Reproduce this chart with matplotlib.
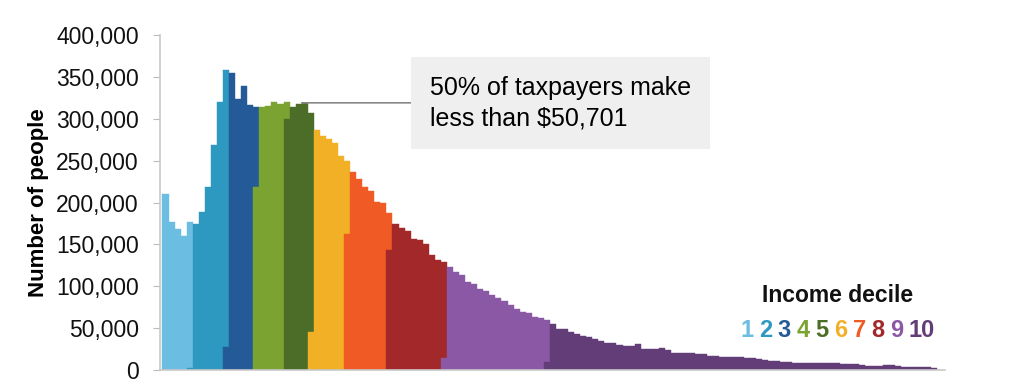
import numpy as np
import matplotlib
matplotlib.use("Agg")
import matplotlib.pyplot as plt
from matplotlib.ticker import FuncFormatter
from matplotlib.offsetbox import TextArea, HPacker, VPacker, AnnotationBbox

plt.rcParams['font.family'] = ['Liberation Sans', 'DejaVu Sans']

# people per income bin, in thousands (equal-width bins, left to right)
counts = [210, 177, 168, 160, 177,
          175, 189, 219, 269, 320, 358,
          355, 324, 339, 316, 314,
          314, 315, 320, 318, 320,
          314, 318, 319, 307,
          287, 279, 276, 271, 255, 250,
          237, 228, 218, 214, 201, 199, 187,
          175, 170, 166, 157, 155, 151, 137, 131, 129,
          123, 117, 113, 105, 103, 97, 94, 90, 86, 82, 78, 73, 70, 68, 63, 62, 60,
          55, 49, 49, 46, 43, 41, 39, 37, 35, 33, 32, 30, 29, 29, 31, 25, 25, 25, 27, 24, 21, 21,
          21, 20, 19, 19, 17, 17, 16, 16, 16, 16, 15, 14, 13, 12, 11, 11, 10, 10, 9, 9, 9, 8,
          8, 8, 8, 9, 7, 7, 7, 6, 5, 5, 5, 6, 6, 5, 4, 4, 4, 4, 4, 3]

# bins shared by two deciles, and the part (thousands) of the upper decile at the bottom
split_bins = [4, 10, 15, 20, 24, 30, 37, 46, 63]
split_lower = [3, 28, 219, 300, 46, 162, 143, 15, 10]

deciles = ['1', '2', '3', '4', '5', '6', '7', '8', '9', '10']
decile_colors = ['#6cbde2', '#2e99c0', '#245a98', '#7ba331', '#4b6d27',
                 '#f2b026', '#f05b25', '#a3282a', '#8a58a5', '#633d77']

median_bin = 23
median_label = "50% of taxpayers make\nless than $50,701"

counts = np.array(counts) * 1000
split_lower = np.array(split_lower) * 1000
n = len(counts)

fig = plt.figure(figsize=(10.24, 3.84), dpi=100)
ax = fig.add_axes([0.156, 0.036, 0.767, 0.873])

for d, c in enumerate(decile_colors):
    start = split_bins[d - 1] if d > 0 else 0
    end = split_bins[d] if d < len(split_bins) else n - 1
    xs, hs, bs = [], [], []
    for i in range(start, end + 1):
        if d > 0 and i == start:
            xs.append(i); hs.append(split_lower[d - 1]); bs.append(0)
        elif d < len(split_bins) and i == end:
            xs.append(i); hs.append(counts[i] - split_lower[d]); bs.append(split_lower[d])
        else:
            xs.append(i); hs.append(counts[i]); bs.append(0)
    ax.bar(xs, hs, bottom=bs, width=1, align='edge', color=c,
           edgecolor=c, linewidth=0.3)

ax.set_xlim(-0.45, 129.3)
ax.set_ylim(0, 400000)
ax.set_yticks(np.arange(0, 400001, 50000))
ax.yaxis.set_major_formatter(FuncFormatter(lambda v, p: f"{int(v):,}"))
ax.tick_params(axis='y', labelsize=16.5, length=5, color='#bbbbbb', labelcolor='#111111', pad=10)
ax.set_xticks([])
for s in ['top', 'right']:
    ax.spines[s].set_visible(False)
for s in ['left', 'bottom']:
    ax.spines[s].set_color('#c8c8c8')
    ax.spines[s].set_linewidth(1.2)

ax.set_ylabel("Number of people", fontsize=16, fontweight='bold', labelpad=5)

# median call-out
ax.annotate(median_label, xy=(median_bin, counts[median_bin]),
            xytext=(44.2, counts[median_bin]), fontsize=18, ha='left', va='center',
            linespacing=1.35,
            bbox=dict(boxstyle='square,pad=0.75', fc='#efefef', ec='none'),
            arrowprops=dict(arrowstyle='-', color='#888888', lw=1.2,
                            shrinkA=0, shrinkB=0))

# legend: coloured decile numbers
title = TextArea("Income decile", textprops=dict(fontsize=16.5, fontweight='bold', color='#111111'))
nums = [TextArea(t, textprops=dict(fontsize=17, fontweight='bold', color=c))
        for t, c in zip(deciles, decile_colors)]
row = HPacker(children=nums, align='center', pad=0, sep=4)
box = VPacker(children=[title, row], align='center', pad=0, sep=8)
ab = AnnotationBbox(box, (0.818, 0.185), xycoords='figure fraction', frameon=False,
                    box_alignment=(0.5, 0.5))
fig.add_artist(ab)

fig.savefig("out.png", dpi=100)
